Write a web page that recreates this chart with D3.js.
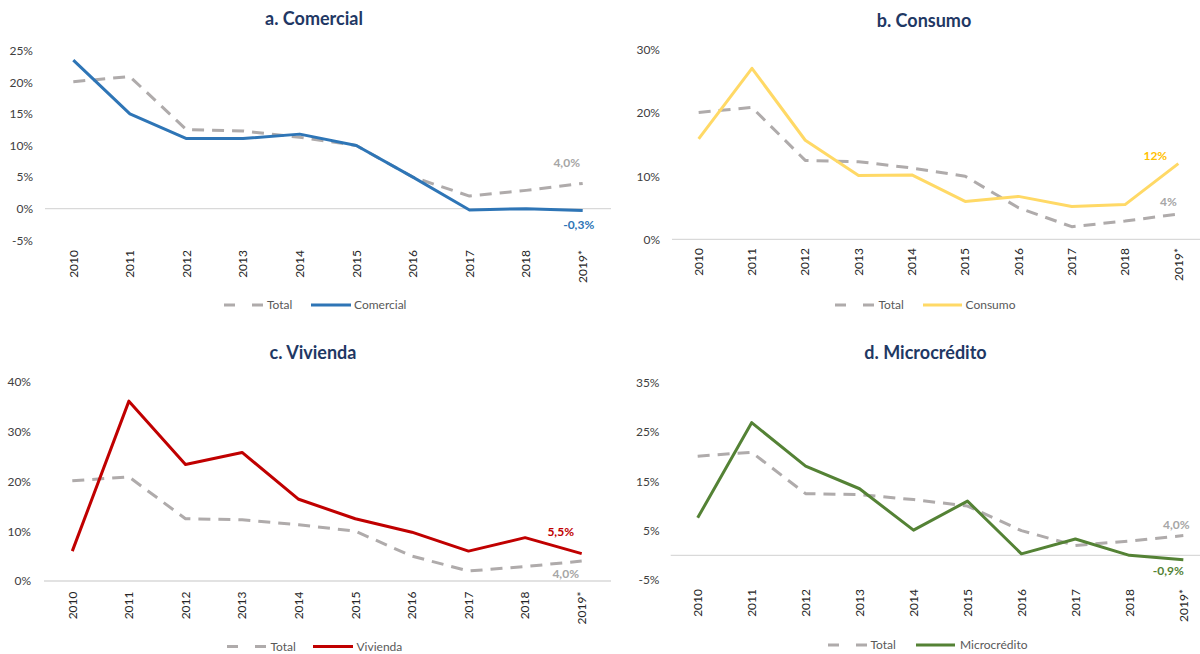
<!DOCTYPE html>
<html>
<head>
<meta charset="utf-8">
<script src="https://cdn.jsdelivr.net/npm/d3@7"></script>
<style>
  html, body { margin: 0; padding: 0; background: #fff; }
  svg { display: block; font-family: "Lato", "Open Sans", sans-serif; }
</style>
</head>
<body>
<svg id="chart" width="1200" height="654"></svg>
<script>
// ---- data ----
const years = ["2010", "2011", "2012", "2013", "2014", "2015", "2016", "2017", "2018", "2019*"];
const total = [20.1, 20.9, 12.5, 12.3, 11.3, 10.0, 5.0, 2.0, 2.9, 4.0];
const comercial = [23.5, 15.0, 11.1, 11.1, 11.8, 10.0, 5.0, -0.2, 0.0, -0.3];
const consumo = [15.9, 27.1, 15.7, 10.1, 10.2, 6.0, 6.8, 5.2, 5.5, 12.0];
const vivienda = [6.0, 36.1, 23.4, 25.8, 16.4, 12.5, 9.8, 6.0, 8.7, 5.5];
const microcredito = [7.6, 26.9, 18.1, 13.5, 5.1, 11.0, 0.3, 3.3, 0.0, -0.9];
const ticksComercial = [-5, 0, 5, 10, 15, 20, 25];
const ticksConsumo = [0, 10, 20, 30];
const ticksVivienda = [0, 10, 20, 30, 40];
const ticksMicro = [-5, 5, 15, 25, 35];
const labelsComercial = ["4,0%", "-0,3%"];
const labelsConsumo = ["4%", "12%"];
const labelsVivienda = ["4,0%", "5,5%"];
const labelsMicro = ["4,0%", "-0,9%"];

// ---- layout / styles ----
const panels = [
  { title: "a. Comercial", name: "Comercial", values: comercial, color: "#2E75B6", labelColor: "#2E75B6",
    ticks: ticksComercial, ydom: [-5, 25], yrng: [240.3, 50.7], xrng: [45, 611], zeroEnd: 611, tickRight: 33,
    titleX: 314, titleY: 18.5, yearTop: 250,
    leg: { y: 305, d0: 224, d1: 264, t1: 267, l0: 311, l1: 351, t2: 354 },
    labels: labelsComercial, totOff: [-16, -21], serOff: [-4, 14] },
  { title: "b. Consumo", name: "Consumo", values: consumo, color: "#FFD966", labelColor: "#FFC000",
    ticks: ticksConsumo, ydom: [0, 30], yrng: [239.3, 50], xrng: [672, 1205], zeroEnd: 1200, tickRight: 660,
    titleX: 924, titleY: 20.5, yearTop: 248,
    leg: { y: 305, d0: 835, d1: 875, t1: 878.5, l0: 923, l1: 962, t2: 965.5 },
    labels: labelsConsumo, totOff: [-10, -12.5], serOff: [-23, -8] },
  { title: "c. Vivienda", name: "Vivienda", values: vivienda, color: "#C00000", labelColor: "#C00000",
    ticks: ticksVivienda, ydom: [0, 40], yrng: [581, 381.7], xrng: [44, 610], zeroEnd: 611, tickRight: 31,
    titleX: 313, titleY: 352.5, yearTop: 591.5,
    leg: { y: 646.5, d0: 227, d1: 266, t1: 270.5, l0: 313, l1: 353, t2: 356.5 },
    labels: labelsVivienda, totOff: [-16, 13], serOff: [-21, -22] },
  { title: "d. Microcrédito", name: "Microcrédito", values: microcredito, color: "#548235", labelColor: "#548235",
    ticks: ticksMicro, ydom: [-5, 35], yrng: [580, 382.7], xrng: [670.7, 1210.3], zeroEnd: 1200, tickRight: 659.5,
    titleX: 925.5, titleY: 352.5, yearTop: 589,
    leg: { y: 645, d0: 828, d1: 868, t1: 870.5, l0: 916, l1: 955, t2: 960 },
    labels: labelsMicro, totOff: [-7, -11], serOff: [-15, 11] }
];

const svg = d3.select("#chart");
const GRAY = "#AFABAB";

panels.forEach(p => {
  const g = svg.append("g");
  const x = d3.scaleBand().domain(years).range(p.xrng);
  const xc = d => x(d) + x.bandwidth() / 2;
  const y = d3.scaleLinear().domain(p.ydom).range(p.yrng);

  // title
  g.append("text").attr("x", p.titleX).attr("y", p.titleY).attr("dy", "0.35em")
    .attr("text-anchor", "middle").attr("font-size", 18).attr("font-weight", 700)
    .attr("fill", "#1F3864").text(p.title);

  // y axis labels
  const yAxis = d3.axisLeft(y).tickValues(p.ticks).tickSize(0).tickPadding(0).tickFormat(d => d + "%");
  const ya = g.append("g").attr("transform", `translate(${p.tickRight},0)`).call(yAxis);
  ya.select(".domain").remove();
  ya.selectAll("text").attr("font-size", 12).attr("fill", "#404040").attr("font-family", "Lato");

  // zero line
  g.append("line").attr("x1", p.xrng[0]).attr("x2", p.zeroEnd)
    .attr("y1", y(0)).attr("y2", y(0)).attr("stroke", "#D9D9D9").attr("stroke-width", 1.3);

  // x labels
  g.selectAll(".yr").data(years).enter().append("text")
    .attr("transform", d => `translate(${xc(d)},${p.yearTop}) rotate(-90)`)
    .attr("text-anchor", "end").attr("dy", "0.35em")
    .attr("font-size", 12).attr("fill", "#262626").text(d => d);

  const line = d3.line().x((d, i) => xc(years[i])).y(d => y(d));

  // total dashed
  g.append("path").datum(total).attr("d", line).attr("fill", "none")
    .attr("stroke", GRAY).attr("stroke-width", 3).attr("stroke-dasharray", "12,8")
    .attr("stroke-linejoin", "round");

  // series
  g.append("path").datum(p.values).attr("d", line).attr("fill", "none")
    .attr("stroke", p.color).attr("stroke-width", 3).attr("stroke-linejoin", "round");

  // end labels
  const last = years.length - 1;
  g.append("text").attr("x", xc(years[last]) + p.totOff[0]).attr("y", y(total[last]) + p.totOff[1])
    .attr("dy", "0.35em").attr("text-anchor", "middle").attr("font-size", 12).attr("font-weight", 700)
    .attr("fill", "#A6A6A6").text(p.labels[0]);
  g.append("text").attr("x", xc(years[last]) + p.serOff[0]).attr("y", y(p.values[last]) + p.serOff[1])
    .attr("dy", "0.35em").attr("text-anchor", "middle").attr("font-size", 12).attr("font-weight", 700)
    .attr("fill", p.labelColor).text(p.labels[1]);

  // legend
  const L = p.leg;
  g.append("line").attr("x1", L.d0).attr("x2", L.d1).attr("y1", L.y).attr("y2", L.y)
    .attr("stroke", GRAY).attr("stroke-width", 3).attr("stroke-dasharray", "11,17");
  g.append("text").attr("x", L.t1).attr("y", L.y).attr("dy", "0.35em")
    .attr("font-size", 12).attr("fill", "#595959").text("Total");
  g.append("line").attr("x1", L.l0).attr("x2", L.l1).attr("y1", L.y).attr("y2", L.y)
    .attr("stroke", p.color).attr("stroke-width", 3);
  g.append("text").attr("x", L.t2).attr("y", L.y).attr("dy", "0.35em")
    .attr("font-size", 12).attr("fill", "#595959").text(p.name);
});
</script>
</body>
</html>
